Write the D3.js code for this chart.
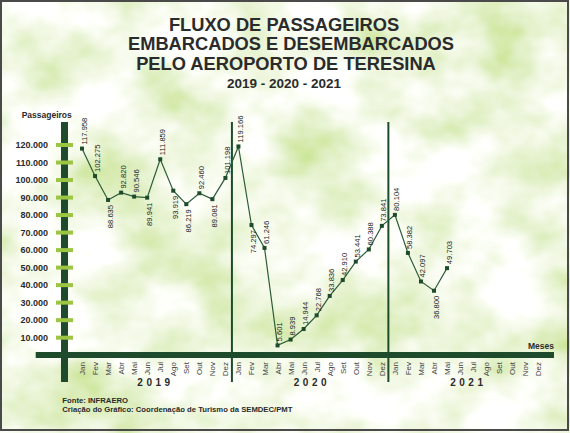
<!DOCTYPE html>
<html>
<head>
  <meta charset="utf-8">
  <title>Fluxo de passageiros - Aeroporto de Teresina</title>
  <script src="https://d3js.org/d3.v7.min.js"></script>
  <style>
    body { margin: 0; }
    text { font-family: "Liberation Sans", Arial, sans-serif; }
  </style>
</head>
<body>
<script>
// meses e anos do eixo x
var months = ["Jan", "Fev", "Mar", "Abr", "Mai", "Jun", "Jul", "Ago", "Set", "Out", "Nov", "Dez"];
var years = ["2019", "2020", "2021"];

// passageiros embarcados + desembarcados, por mes
var values2019 = [117958, 102275, 88635, 92820, 90546, 89941, 111859, 93919, 86219, 92460, 89081, 101198];
var values2020 = [119166, 74297, 61246, 5601, 8939, 14944, 22768, 33836, 42910, 53441, 60388, 73841];
var values2021 = [80104, 58382, 42097, 36800, 49703];

// ticks do eixo y
var yTicks = [10000, 20000, 30000, 40000, 50000, 60000, 70000, 80000, 90000, 100000, 110000, 120000];

// pontos cujo rotulo fica abaixo
var labelsBelow = [2, 5, 7, 8, 10, 13, 27];

var W = 570, H = 433;
var dark = "#1e4b2b", lineColor = "#2e5c38", tickGreen = "#9cc544", textColor = "#2b2b2b";

var ptBr = d3.formatLocale({decimal: ",", thousands: ".", grouping: [3], currency: ["R$", ""]});
var fmt = ptBr.format(",");

var series = values2019.concat(values2020, values2021).map(function(v, i) { return {i: i, v: v}; });
var allMonths = [];
years.forEach(function(y) { months.forEach(function(m) { allMonths.push(m); }); });

var svg = d3.select("body").append("svg")
    .attr("width", W)
    .attr("height", H);

// fundo com nuvens
var defs = svg.append("defs");
var f = defs.append("filter").attr("id", "clouds")
    .attr("x", 0).attr("y", 0).attr("width", "100%").attr("height", "100%");
f.append("feTurbulence")
    .attr("type", "fractalNoise")
    .attr("baseFrequency", "0.011 0.014")
    .attr("numOctaves", 4)
    .attr("seed", 7);
f.append("feColorMatrix")
    .attr("type", "matrix")
    .attr("values", "0.9 0 0 0 0.43  0.5 0 0 0 0.69  1.5 0 0 0 0.02  0 0 0 0 1");

svg.append("rect")
    .attr("width", W).attr("height", H)
    .attr("fill", "#e2eecb");
svg.append("rect")
    .attr("width", W).attr("height", H)
    .attr("filter", "url(#clouds)");

// moldura
svg.append("rect")
    .attr("x", 1).attr("y", 1)
    .attr("width", W - 3).attr("height", H - 4)
    .attr("fill", "none")
    .attr("stroke", "#4a4a4a")
    .attr("stroke-width", 2);

// titulo
var title = [
  {t: "FLUXO DE PASSAGEIROS", x: 284, y: 30.7, s: 18.3},
  {t: "EMBARCADOS E DESEMBARCADOS", x: 291, y: 50, s: 18.3},
  {t: "PELO AEROPORTO DE TERESINA", x: 286, y: 70, s: 18.3},
  {t: "2019 - 2020 - 2021", x: 284, y: 87.7, s: 13.5}
];
svg.selectAll("text.title")
  .data(title)
  .enter().append("text")
    .attr("class", "title")
    .attr("x", function(d) { return d.x; })
    .attr("y", function(d) { return d.y; })
    .attr("text-anchor", "middle")
    .attr("font-weight", "bold")
    .attr("font-size", function(d) { return d.s; })
    .attr("fill", textColor)
    .text(function(d) { return d.t; });

// escalas
var x = d3.scaleLinear().domain([0, 35]).range([82, 538.3]);
var y = d3.scaleLinear().domain([0, 120000]).range([355.2, 145]);

// eixo y (barra grossa)
var axisX = 64.5;
svg.append("rect")
    .attr("x", axisX - 3.5).attr("y", 122)
    .attr("width", 7).attr("height", 260)
    .attr("fill", dark);

svg.selectAll("rect.ytick")
  .data(yTicks)
  .enter().append("rect")
    .attr("class", "ytick")
    .attr("x", axisX - 8.5)
    .attr("y", function(d) { return y(d) - 2; })
    .attr("width", 17).attr("height", 4)
    .attr("fill", tickGreen);

svg.selectAll("text.ylab")
  .data(yTicks)
  .enter().append("text")
    .attr("class", "ylab")
    .attr("x", 48)
    .attr("y", function(d) { return y(d); })
    .attr("dy", "0.36em")
    .attr("text-anchor", "end")
    .attr("font-weight", "bold")
    .attr("font-size", 9)
    .attr("fill", textColor)
    .text(function(d) { return fmt(d); });

svg.append("text")
    .attr("x", 46.7).attr("y", 118)
    .attr("text-anchor", "middle")
    .attr("font-weight", "bold")
    .attr("font-size", 8.5)
    .attr("fill", textColor)
    .text("Passageiros");

// eixo x (barra grossa)
svg.append("rect")
    .attr("x", 35.7).attr("y", 352)
    .attr("width", 554 - 35.7).attr("height", 6)
    .attr("fill", dark);

svg.append("text")
    .attr("x", 554).attr("y", 348.5)
    .attr("text-anchor", "end")
    .attr("font-weight", "bold")
    .attr("font-size", 8.5)
    .attr("fill", textColor)
    .text("Meses");

// divisores de ano
svg.selectAll("line.div")
  .data([11.5, 23.5])
  .enter().append("line")
    .attr("class", "div")
    .attr("x1", function(d) { return x(d); })
    .attr("x2", function(d) { return x(d); })
    .attr("y1", 122).attr("y2", 382)
    .attr("stroke", dark)
    .attr("stroke-width", 2);

// rotulos dos meses
svg.selectAll("text.month")
  .data(allMonths)
  .enter().append("text")
    .attr("class", "month")
    .attr("transform", function(d, i) { return "translate(" + (x(i) + 3) + ",362) rotate(-90)"; })
    .attr("text-anchor", "end")
    .attr("font-size", 8)
    .attr("fill", "#444")
    .text(function(d) { return d; });

// anos
svg.selectAll("text.year")
  .data(years)
  .enter().append("text")
    .attr("class", "year")
    .attr("x", function(d, i) { return x(i * 12 + 5.5) + 1.75; })
    .attr("y", 386)
    .attr("text-anchor", "middle")
    .attr("font-weight", "bold")
    .attr("font-size", 10)
    .attr("letter-spacing", 3.5)
    .attr("fill", textColor)
    .text(function(d) { return d; });

// linha
var line = d3.line()
    .x(function(d) { return x(d.i); })
    .y(function(d) { return y(d.v); });

svg.append("path")
    .attr("d", line(series))
    .attr("fill", "none")
    .attr("stroke", lineColor)
    .attr("stroke-width", 1.2);

svg.selectAll("rect.pt")
  .data(series)
  .enter().append("rect")
    .attr("class", "pt")
    .attr("x", function(d) { return x(d.i) - 2; })
    .attr("y", function(d) { return y(d.v) - 2; })
    .attr("width", 4).attr("height", 4)
    .attr("fill", dark);

// rotulos dos valores
svg.selectAll("text.val")
  .data(series)
  .enter().append("text")
    .attr("class", "val")
    .attr("transform", function(d) {
      var below = labelsBelow.indexOf(d.i) >= 0;
      var ty = below ? y(d.v) + 5 : y(d.v) - 4;
      return "translate(" + (x(d.i) + 4.5) + "," + ty + ") rotate(-90)";
    })
    .attr("text-anchor", function(d) { return labelsBelow.indexOf(d.i) >= 0 ? "end" : "start"; })
    .attr("font-size", 7.6)
    .attr("fill", "#222")
    .text(function(d) { return fmt(d.v); });

// fonte
svg.selectAll("text.foot")
  .data(["Fonte: INFRAERO", "Criação do Gráfico: Coordenação de Turismo da SEMDEC/PMT"])
  .enter().append("text")
    .attr("class", "foot")
    .attr("x", 62.3)
    .attr("y", function(d, i) { return 402.7 + i * 9.5; })
    .attr("font-weight", "bold")
    .attr("font-size", 7.7)
    .attr("fill", textColor)
    .text(function(d) { return d; });
</script>
</body>
</html>
